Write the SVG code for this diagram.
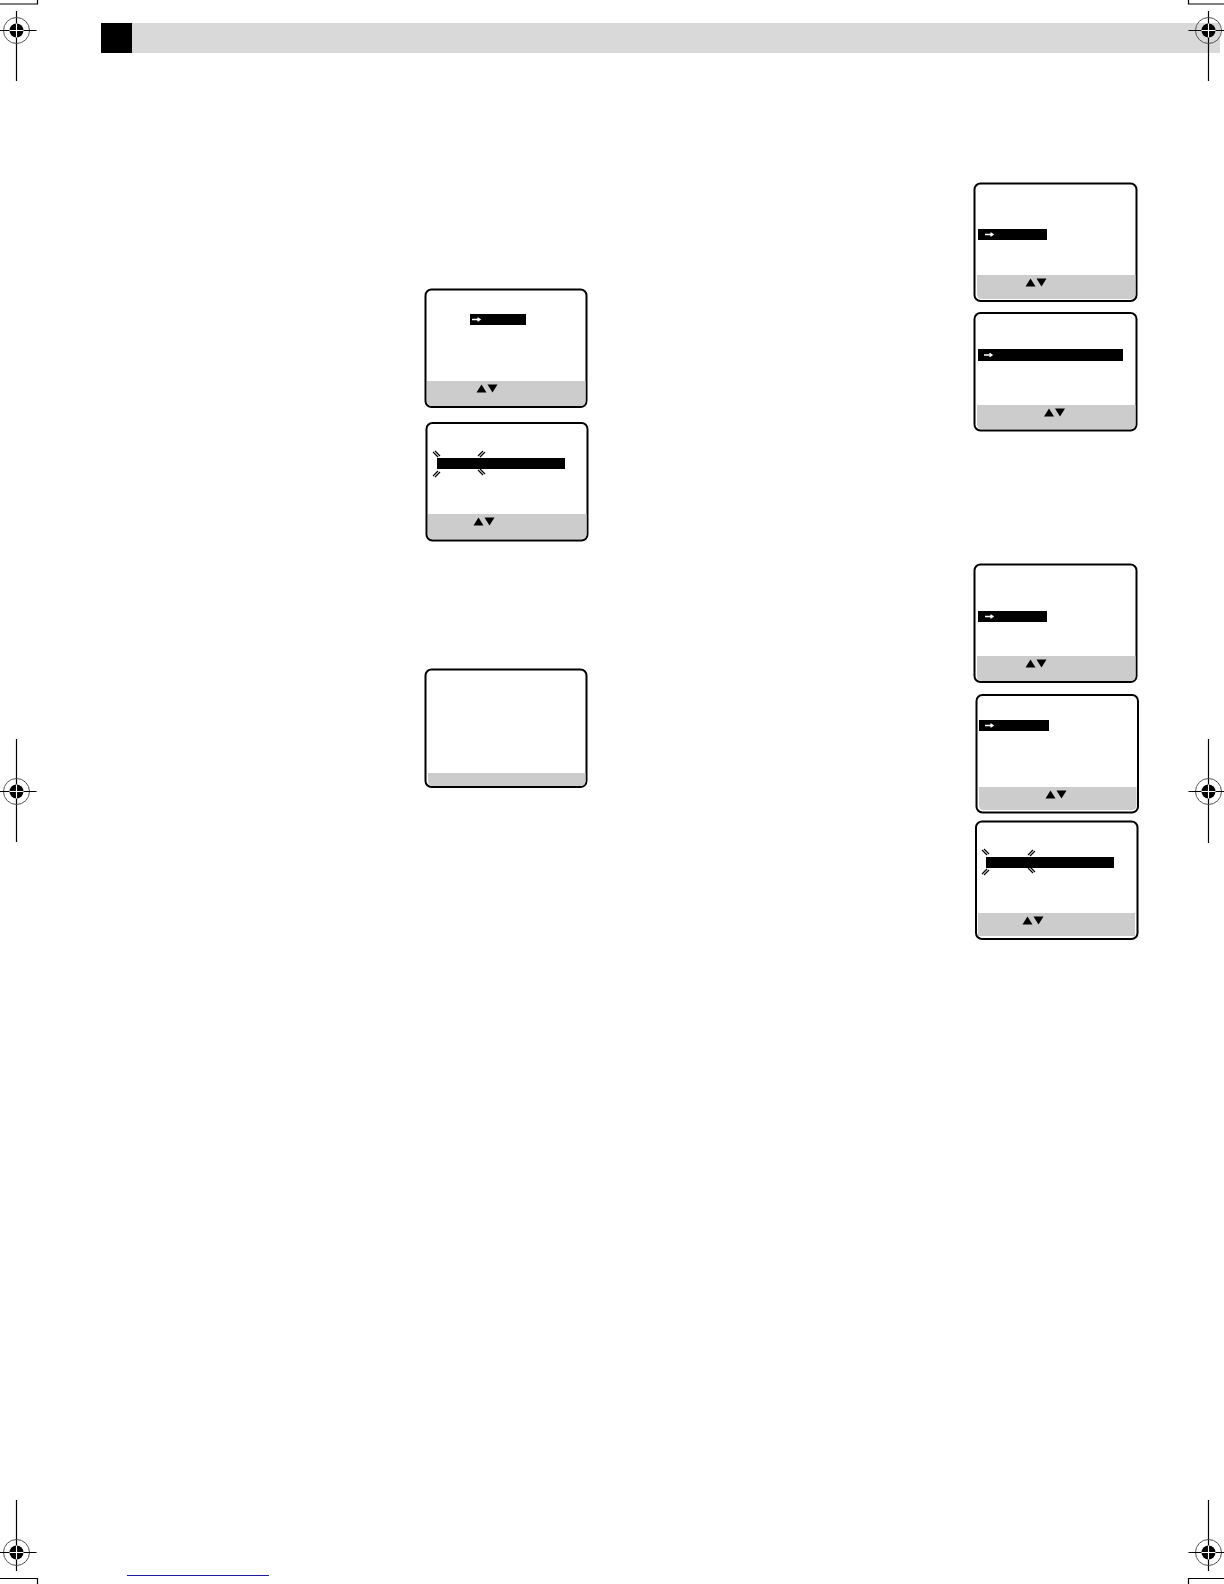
<svg xmlns="http://www.w3.org/2000/svg" xmlns:xlink="http://www.w3.org/1999/xlink" width="1224" height="1584" viewBox="0 0 1224 1584">
<style>
.frame{fill:#fff;stroke:#000;stroke-width:2}
.band{fill:#cccccc}
.bar{fill:#000}
.tri{fill:#000}
.arr{fill:none;stroke:#fff;stroke-width:1.4}
.sp{fill:none;stroke:#000;stroke-width:1.2}
.crop{fill:none;stroke:#000;stroke-width:1.2}
.ring{fill:none;stroke:#555;stroke-width:1}
</style>
<defs>
<g id="reg">
<circle class="ring" cx="0" cy="0" r="13"/>
<circle r="7" fill="#000"/>
<path d="M-20 0H20" stroke="#000" stroke-width="1.2"/>
<path d="M-7 0H7M0 -7V7" stroke="#fff" stroke-width="1.1"/>
</g>
<g id="arrows">
<path class="tri" d="M-0.5 7.5L4.5 -0.5L9.5 7.5Z"/>
<path class="tri" d="M10.5 -0.5H20.5L15.5 7.5Z"/>
</g>
<path id="ar" class="arr" d="M0 0H8M5.5 -1.8L8 0L5.5 1.8"/>
<g id="spark">
<path class="sp" d="M-3 -3L2 2M-1 -4L4 1"/>
</g>
<g id="spark2">
<path class="sp" d="M-3 3L2 -2M-1 4L4 -1"/>
</g>
</defs>

<g id="page-header">
<rect x="132" y="23" width="1088" height="30" fill="#d9d9d9"/>
<rect x="101" y="23" width="31" height="30" fill="#000"/>
</g>

<g id="crop-marks">
<path class="crop" d="M0 4H37.5V0M1224 4H1188.5V0M0 1578.5H37.5V1584M1224 1578.5H1188.5V1584"/>
<path class="crop" d="M16.5 11V81M1208.5 11V81M16.5 739V842M1208.5 739V843M16.5 1500V1571M1208.5 1500V1571"/>
<use xlink:href="#reg" href="#reg" x="16.5" y="30.5"/>
<use xlink:href="#reg" href="#reg" x="1208.5" y="30.5"/>
<use xlink:href="#reg" href="#reg" x="16.5" y="791.5"/>
<use xlink:href="#reg" href="#reg" x="1208.5" y="791.5"/>
<use xlink:href="#reg" href="#reg" x="16.5" y="1552.5"/>
<use xlink:href="#reg" href="#reg" x="1208.5" y="1552.5"/>
<path d="M127 1575.5H269" stroke="#1c1ca8" stroke-width="1.2"/>
</g>

<g id="screen-1">
<rect class="frame" x="425.5" y="289.5" width="161" height="117.5" rx="6"/>
<path class="band" d="M427 381H585.500V401q0 5 -5 5H432q-5 0 -5 -5Z"/>
<rect class="bar" x="470" y="314" width="56" height="11"/>
<use xlink:href="#ar" href="#ar" x="472" y="319.5"/>
<use xlink:href="#arrows" href="#arrows" x="477" y="385"/>
</g>

<g id="screen-2">
<rect class="frame" x="426.5" y="423" width="161" height="117.500" rx="6"/>
<path class="band" d="M428 514H586.500V534q0 5 -5 5H433q-5 0 -5 -5Z"/>
<rect class="bar" x="437" y="458" width="128" height="11"/>
<use xlink:href="#spark" href="#spark" x="436" y="455"/>
<use xlink:href="#spark2" href="#spark2" x="481" y="453"/>
<use xlink:href="#spark2" href="#spark2" x="436" y="473"/>
<use xlink:href="#spark" href="#spark" x="481" y="473"/>
<use xlink:href="#arrows" href="#arrows" x="474" y="518"/>
</g>

<g id="screen-3">
<rect class="frame" x="425.5" y="669.5" width="161" height="117.5" rx="6"/>
<path class="band" d="M428 773H585.500V781q0 5 -5 5H433q-5 0 -5 -5Z"/>
</g>

<g id="screen-4">
<rect class="frame" x="974.5" y="183.500" width="162" height="117.5" rx="6"/>
<path class="band" d="M977 275H1135.500V294q0 5 -5 5H982q-5 0 -5 -5Z"/>
<rect class="bar" x="978" y="229" width="69" height="11"/>
<use xlink:href="#ar" href="#ar" x="985" y="234.5"/>
<use xlink:href="#arrows" href="#arrows" x="1026" y="279"/>
</g>

<g id="screen-5">
<rect class="frame" x="974.5" y="313" width="162" height="117.5" rx="6"/>
<path class="band" d="M977 405H1135.500V424q0 5 -5 5H982q-5 0 -5 -5Z"/>
<rect class="bar" x="978" y="349" width="145" height="12"/>
<use xlink:href="#ar" href="#ar" x="984" y="355"/>
<use xlink:href="#arrows" href="#arrows" x="1044.5" y="409"/>
</g>

<g id="screen-6">
<rect class="frame" x="974.5" y="564.5" width="162" height="117.5" rx="6"/>
<path class="band" d="M977 656H1135.500V676q0 5 -5 5H982q-5 0 -5 -5Z"/>
<rect class="bar" x="978" y="611" width="69" height="11"/>
<use xlink:href="#ar" href="#ar" x="985" y="616.5"/>
<use xlink:href="#arrows" href="#arrows" x="1026" y="660"/>
</g>

<g id="screen-7">
<rect class="frame" x="976.5" y="695" width="161.5" height="117.5" rx="6"/>
<path class="band" d="M979 787H1136.500V805q0 5 -5 5H984q-5 0 -5 -5Z"/>
<rect class="bar" x="979" y="720" width="70" height="11"/>
<use xlink:href="#ar" href="#ar" x="985" y="725.5"/>
<use xlink:href="#arrows" href="#arrows" x="1046" y="791"/>
</g>

<g id="screen-8">
<rect class="frame" x="976" y="821.5" width="161.5" height="117.5" rx="6"/>
<path class="band" d="M978 913H1135V936H978Z"/>
<rect class="bar" x="986" y="857" width="128" height="11"/>
<use xlink:href="#spark" href="#spark" x="985" y="853"/>
<use xlink:href="#spark2" href="#spark2" x="1031" y="852"/>
<use xlink:href="#spark2" href="#spark2" x="985" y="871"/>
<use xlink:href="#spark" href="#spark" x="1031" y="871"/>
<use xlink:href="#arrows" href="#arrows" x="1023" y="917"/>
</g>

<g id="connectors"></g>
</svg>
